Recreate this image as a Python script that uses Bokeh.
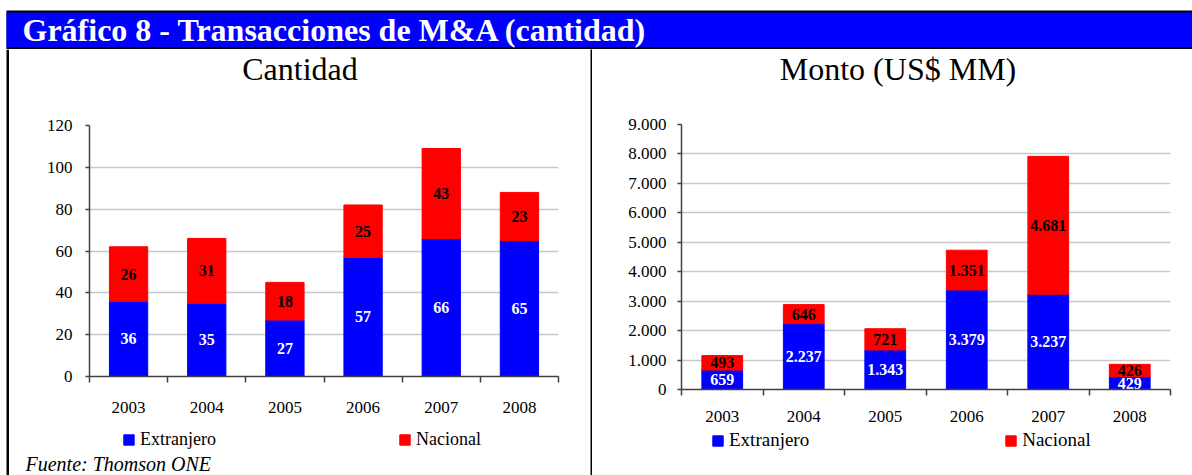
from bokeh.plotting import figure
from bokeh.models import (ColumnDataSource, FactorRange, Range1d, LinearAxis, CategoricalAxis,
                          FixedTicker, SingleIntervalTicker, CustomJSTickFormatter, Legend,
                          LegendItem, BoxAnnotation)
from bokeh.layouts import row, column
from bokeh.core.properties import value
from bokeh.embed import file_html
from bokeh.resources import INLINE

# ---------------- data ----------------
years = ["2003", "2004", "2005", "2006", "2007", "2008"]
cant_extranjero = [36, 35, 27, 57, 66, 65]
cant_nacional = [26, 31, 18, 25, 43, 23]
monto_extranjero = [659, 2237, 1343, 3379, 3237, 429]
monto_nacional = [493, 646, 721, 1351, 4681, 426]
series_names = ["Extranjero", "Nacional"]
header_title = "Gráfico 8 - Transacciones de M&A (cantidad)"
left_title = "Cantidad"
right_title = "Monto (US$ MM)"
source_note = "Fuente: Thomson ONE"

FONT = "Liberation Serif"
BLUE = "#0000ff"
RED = "#ff0000"
AXIS = "#404040"
GRID = "#c8c8c8"

W = 1192
HEADER_H = 49
TITLE_H = 51
CHART_H = 325
LEG_H = 50
PANEL_H = TITLE_H + CHART_H + LEG_H


def fmt_es(v):
    return f"{v:,}".replace(",", ".")


def pixel_fig(w, h, bg="white"):
    f = figure(width=w, height=h, x_range=Range1d(0, w), y_range=Range1d(0, h),
               x_axis_type=None, y_axis_type=None, toolbar_location=None,
               output_backend="svg", min_border=0, title=None,
               background_fill_color=bg, border_fill_color=bg, outline_line_color=None)
    f.frame_align = False
    return f


def box(f, **kw):
    f.add_layout(BoxAnnotation(fill_alpha=1, line_alpha=0, level="underlay", **kw))


def txt(f, x, y, s, size, color="black", style="normal", align="left"):
    f.text(x=[x], y=[y], text=[s], text_font=value(FONT), text_font_size=value(size),
           text_font_style=style, text_color=color, text_align=align,
           text_baseline="middle")


def make_chart(ext, nac, ymax, yint, width, borders, bar_w, ystandoff, xstandoff,
               thousands=False):
    bl, br, bt, bb = borders
    p = figure(width=width, height=CHART_H, x_range=FactorRange(*years),
               y_range=Range1d(0, ymax), x_axis_type=None, title=None,
               toolbar_location=None, output_backend="svg",
               min_border_left=bl, min_border_right=br,
               min_border_top=bt, min_border_bottom=bb)
    p.frame_align = False
    p.outline_line_color = None
    p.background_fill_color = "white"
    p.border_fill_color = "white"

    ticker = SingleIntervalTicker(interval=yint, num_minor_ticks=0)
    p.yaxis.ticker = ticker
    p.ygrid.ticker = ticker
    p.ygrid.grid_line_color = GRID
    p.ygrid.grid_line_width = 1.5
    ya = p.yaxis[0]
    ya.axis_line_color = AXIS
    ya.axis_line_width = 1.5
    ya.major_tick_line_color = AXIS
    ya.major_tick_line_width = 1.5
    ya.major_tick_out = 4
    ya.major_tick_in = 0
    ya.minor_tick_line_color = None
    ya.major_label_text_font = FONT
    ya.major_label_text_font_size = "17px"
    ya.major_label_text_color = "black"
    ya.major_label_standoff = ystandoff
    if thousands:
        ya.formatter = CustomJSTickFormatter(
            code=r"return tick.toFixed(0).replace(/\B(?=(\d{3})+(?!\d))/g, '.');")

    # category-boundary tick marks (synthetic coordinates of the factor range)
    ta = LinearAxis(ticker=FixedTicker(ticks=list(range(len(years) + 1))),
                    formatter=CustomJSTickFormatter(code="return '';"),
                    major_label_text_font_size="1px", major_label_standoff=0,
                    major_tick_out=6, major_tick_in=0,
                    minor_tick_line_color=None,
                    axis_line_color=AXIS, axis_line_width=1.5,
                    major_tick_line_color=AXIS, major_tick_line_width=1.5)
    p.add_layout(ta, "below")
    ca = CategoricalAxis(major_tick_line_color=None, major_tick_out=0, major_tick_in=0,
                         axis_line_color=None, major_label_standoff=xstandoff,
                         major_label_text_font=FONT, major_label_text_font_size="17px",
                         major_label_text_color="black")
    p.add_layout(ca, "below")

    src = ColumnDataSource(dict(
        year=years, ext=ext, nac=nac,
        y_ext=[e / 2 for e in ext],
        y_nac=[e + n / 2 for e, n in zip(ext, nac)],
        t_ext=[fmt_es(v) for v in ext],
        t_nac=[fmt_es(v) for v in nac]))
    p.vbar_stack(["ext", "nac"], x="year", width=bar_w, color=[BLUE, RED], source=src)
    p.text(x="year", y="y_ext", text="t_ext", source=src, text_color="white",
           text_font=value(FONT), text_font_style="bold", text_font_size=value("16px"),
           text_align="center", text_baseline="middle")
    p.text(x="year", y="y_nac", text="t_nac", source=src, text_color="black",
           text_font=value(FONT), text_font_style="bold", text_font_size=value("16px"),
           text_align="center", text_baseline="middle")
    return p


def make_legend_fig(width, loc, size, spacing, note=None):
    f = pixel_fig(width, LEG_H)
    # zero-size swatch carriers for the legend
    r_ext = f.vbar(x=[0], top=[0], bottom=[0], width=0, color=BLUE)
    r_nac = f.vbar(x=[0], top=[0], bottom=[0], width=0, color=RED)
    leg = Legend(items=[LegendItem(label=series_names[0], renderers=[r_ext]),
                        LegendItem(label=series_names[1], renderers=[r_nac])],
                 location=loc, orientation="horizontal", spacing=spacing,
                 padding=0, margin=0, glyph_width=13, glyph_height=13, label_standoff=5,
                 label_text_font=FONT, label_text_font_size=size,
                 label_text_color="black",
                 background_fill_alpha=0, border_line_color=None)
    f.add_layout(leg)
    if note is not None:
        txt(f, note[0], note[1], source_note, "20px", style="italic")
    return f


# ---------------- header ----------------
h = pixel_fig(W, HEADER_H)
box(h, left=6, right=W, bottom=0, top=39, fill_color="black")
box(h, left=6, right=W, bottom=2.5, top=37, fill_color=BLUE)
txt(h, 22, 19.8, header_title, "32px", color="white", style="bold")

# ---------------- border strips ----------------
strip_l = pixel_fig(9, PANEL_H)
box(strip_l, left=6, right=9, fill_color="black")
sep = pixel_fig(2, PANEL_H, bg="black")

# ---------------- left panel ----------------
LW = 581
lt = pixel_fig(LW, TITLE_H)
txt(lt, 290.5, 31.3, left_title, "32px", align="center")
lc = make_chart(cant_extranjero, cant_nacional, 120, 20, LW, (80, 32, 25, 49), 0.49, 13, 19)
ll = make_legend_fig(LW, (113, 25), "18px", 182, note=(16, 11.5))

# ---------------- right panel ----------------
RW = 600
rt = pixel_fig(RW, TITLE_H)
txt(rt, 305.5, 31.3, right_title, "32px", align="center")
rc = make_chart(monto_extranjero, monto_nacional, 9000, 1000, RW, (89, 22, 24, 36), 0.5,
                11, 15, thousands=True)
rl = make_legend_fig(RW, (119, 24), "19px", 195)

layout = column(h, row(strip_l, column(lt, lc, ll), sep, column(rt, rc, rl)))

open("out.html", "w").write(file_html(layout, INLINE))
